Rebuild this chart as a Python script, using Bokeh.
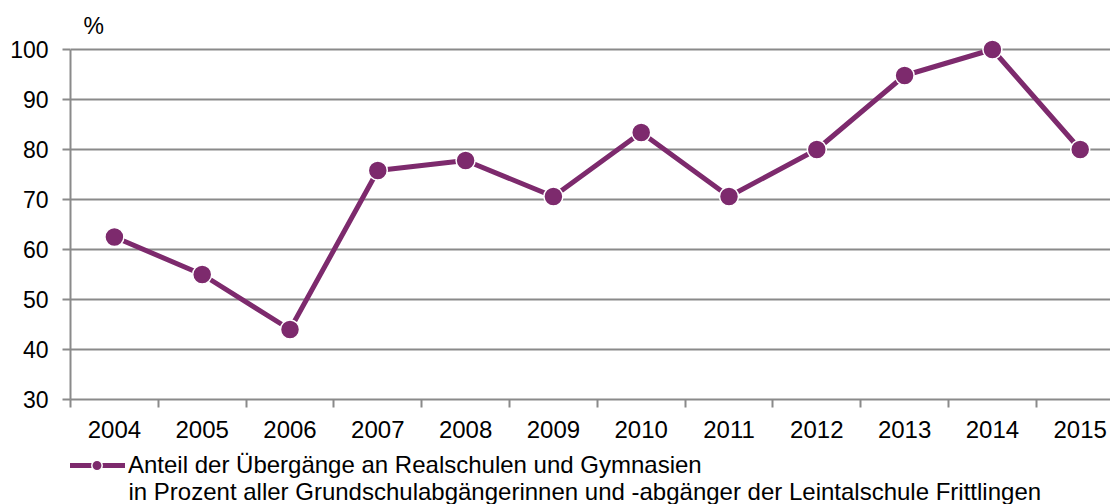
from bokeh.plotting import figure
from bokeh.layouts import column
from bokeh.models import Range1d, FixedTicker, Legend, LegendItem, Title, Label
from bokeh.embed import file_html
from bokeh.resources import INLINE

years = [2004, 2005, 2006, 2007, 2008, 2009, 2010, 2011, 2012, 2013, 2014, 2015]
values = [62.5, 55.0, 44.0, 75.8, 77.8, 70.6, 83.4, 70.6, 80.0, 94.8, 100.0, 80.0]
y_ticks = [30, 40, 50, 60, 70, 80, 90, 100]
legend_line1 = "Anteil der Übergänge an Realschulen und Gymnasien"
legend_line2 = "in Prozent aller Grundschulabgängerinnen und -abgänger der Leintalschule Frittlingen"
unit_label = "%"

PURPLE = "#7d2a6d"
GRAY = "#8a8a8a"
FONT = "Liberation Sans"
FS_X = "24px"
FS_Y = "23px"
FS_LEG = "24px"

p = figure(width=1110, height=452, output_backend="svg", toolbar_location=None,
           x_range=Range1d(years[0] - 0.5, years[0] - 0.5 + 1040 / 87.8),
           y_range=Range1d(30, 102),
           min_border_left=70, min_border_right=0, min_border_top=39, min_border_bottom=53)
p.outline_line_color = None
p.background_fill_color = "white"
p.border_fill_color = "white"

# axes
xa = p.xaxis[0]
xa.ticker = FixedTicker(ticks=years, minor_ticks=[y - 0.5 for y in years] + [years[-1] + 0.5])
xa.major_tick_out = 0
xa.major_tick_in = 0
xa.minor_tick_out = 8
xa.minor_tick_in = 0
xa.minor_tick_line_color = GRAY
xa.minor_tick_line_width = 2
xa.axis_line_color = GRAY
xa.axis_line_width = 2
xa.major_label_text_font = FONT
xa.major_label_text_font_size = FS_X
xa.major_label_text_color = "#000000"
xa.major_label_standoff = 13

ya = p.yaxis[0]
ya.ticker = FixedTicker(ticks=y_ticks)
ya.bounds = (30, 100)
ya.major_tick_out = 8
ya.major_tick_in = 0
ya.minor_tick_out = 0
ya.minor_tick_in = 0
ya.major_tick_line_color = GRAY
ya.major_tick_line_width = 2
ya.axis_line_color = GRAY
ya.axis_line_width = 2
ya.major_label_text_font = FONT
ya.major_label_text_font_size = FS_Y
ya.major_label_text_color = "#000000"
ya.major_label_standoff = 14

p.xgrid.grid_line_color = None
p.ygrid.ticker = FixedTicker(ticks=y_ticks)
p.ygrid.grid_line_color = GRAY
p.ygrid.grid_line_width = 2

# data
p.line(years, values, line_color=PURPLE, line_width=5)
p.scatter(years, values, size=19, fill_color=PURPLE, line_color="white", line_width=1.5)

# unit label above the frame
p.add_layout(Title(text=unit_label, align="left", offset=13, text_font=FONT,
                   text_font_size=FS_Y, text_font_style="normal", text_color="#000000",
                   standoff=2), "above")

# legend strip below the chart; its frame is aligned with the chart frame (70..1110 px)
leg = figure(width=1110, height=52, output_backend="svg", toolbar_location=None,
             x_range=Range1d(70, 1110), y_range=Range1d(0, 52),
             x_axis_type=None, y_axis_type=None,
             min_border_left=0, min_border_right=0, min_border_top=0, min_border_bottom=0)
leg.grid.visible = False
leg.outline_line_color = None
leg.background_fill_color = "white"
leg.border_fill_color = "white"

# same series, lying outside this strip's visible ranges; used only for the legend sample
ln2 = leg.line(years, values, line_color=PURPLE, line_width=5)
sc2 = leg.scatter(years, values, size=19, fill_color=PURPLE, line_color="white", line_width=1.5)

legend = Legend(items=[LegendItem(label=legend_line1, renderers=[ln2, sc2])],
                location=(-2, 25), orientation="vertical",
                glyph_width=57, glyph_height=26, label_standoff=3,
                padding=0, margin=0, border_line_color=None, background_fill_alpha=0,
                label_text_font=FONT, label_text_font_size=FS_LEG, label_text_color="#000000")
leg.add_layout(legend, "center")

leg.add_layout(Label(x=128, y=13, text=legend_line2, text_font=FONT,
                     text_font_size=FS_LEG, text_color="#000000", text_baseline="middle"))

layout = column(p, leg, spacing=0)
open("out.html", "w").write(file_html(layout, INLINE))
